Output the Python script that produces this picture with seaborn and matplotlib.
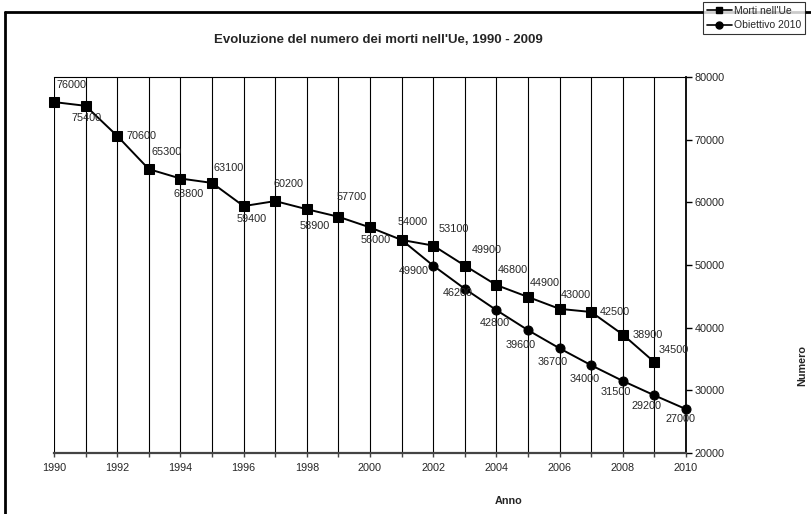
import matplotlib
matplotlib.use("Agg")
import matplotlib.pyplot as plt
from matplotlib.lines import Line2D
import numpy as np
import pandas as pd
import seaborn as sns

# Data
anni_morti = [1990, 1991, 1992, 1993, 1994, 1995, 1996, 1997, 1998, 1999,
              2000, 2001, 2002, 2003, 2004, 2005, 2006, 2007, 2008, 2009]
morti = [76000, 75400, 70600, 65300, 63800, 63100, 59400, 60200, 58900, 57700,
         56000, 54000, 53100, 49900, 46800, 44900, 43000, 42500, 38900, 34500]
anni_obiettivo = [2001, 2002, 2003, 2004, 2005, 2006, 2007, 2008, 2009, 2010]
obiettivo = [54000, 49900, 46200, 42800, 39600, 36700, 34000, 31500, 29200, 27000]
serie = ["Morti nell'Ue", "Obiettivo 2010"]
x_ticks = list(range(1990, 2011, 2))
y_ticks = [20000, 30000, 40000, 50000, 60000, 70000, 80000]

# Label offsets in points (dx, dy, ha)
off_morti = [(2, 12, 'left'), (1, -9, 'center'), (7, 0, 'left'), (2, 12, 'left'),
             (6, -11, 'center'), (1, 11, 'left'), (6, -9, 'center'), (-1, 12, 'left'),
             (6, -12, 'center'), (-1, 14, 'left'), (4, -9, 'center'), (-3, 13, 'left'),
             (4, 12, 'left'), (5, 11, 'left'), (1, 11, 'left'), (1, 10, 'left'),
             (1, 10, 'left'), (6, 0, 'left'), (7, 0, 'left'), (3, 9, 'left')]
off_obiettivo = [None, (-3, -4, 'right'), (-5, -3, 'center'), (-1, -9, 'center'),
                 (-5, -11, 'center'), (-5, -10, 'center'), (-5, -10, 'center'),
                 (-5, -8, 'center'), (-6, -8, 'center'), (-4, -7, 'center')]

df = pd.concat([
    pd.DataFrame({"Anno": anni_morti, "Numero": morti, "Serie": serie[0]}),
    pd.DataFrame({"Anno": anni_obiettivo, "Numero": obiettivo, "Serie": serie[1]}),
], ignore_index=True)

sns.set_style("white")
plt.rcParams['font.family'] = ['Liberation Sans', 'DejaVu Sans']

fig = plt.figure(figsize=(8.11, 5.14), dpi=100)
ax = fig.add_axes([54/811, 61/514, 632/811, 376/514])

# Objective line drawn first so the 2001 square sits on top
sns.lineplot(data=df, x="Anno", y="Numero", hue="Serie", style="Serie",
             hue_order=serie[::-1], style_order=serie[::-1],
             markers={serie[0]: 's', serie[1]: 'o'}, dashes=False,
             palette={serie[0]: 'black', serie[1]: 'black'},
             markersize=6.5, markeredgecolor='black', linewidth=1.4,
             ax=ax, legend=False, zorder=3, clip_on=False)

ax.set_xlim(1990, 2010)
ax.set_ylim(20000, 80000)

# Vertical gridlines at every year
ax.set_xticks(x_ticks)
ax.set_xticks(range(1990, 2011), minor=True)
ax.grid(False)
for yr in range(1990, 2011):
    ax.axvline(yr, color='black', lw=0.8, zorder=1)

ax.set_yticks(y_ticks)
ax.yaxis.tick_right()
ax.yaxis.set_label_position('right')
ax.tick_params(axis='y', which='major', direction='out', length=4, width=1,
               color='black', labelsize=7.8, pad=2, right=True, left=False)
ax.tick_params(axis='x', which='both', direction='out', length=3, width=1,
               color='#444444', labelsize=7.8, pad=4, bottom=True)

ax.spines['left'].set_visible(False)
ax.spines['top'].set_color('black')
ax.spines['top'].set_linewidth(0.8)
ax.spines['right'].set_color('black')
ax.spines['right'].set_linewidth(1.3)
ax.spines['bottom'].set_color('#444444')
ax.spines['bottom'].set_linewidth(1.6)

ax.set_xlabel("Anno", fontsize=7.8, fontweight='bold')
ax.xaxis.set_label_coords((509 - 54) / 632, -(501 - 453) / 376)
ax.set_ylabel("Numero", fontsize=7.8, fontweight='bold')
ax.yaxis.set_label_coords((802 - 54) / 632, (453 - 365) / 376)
ax.yaxis.label.set_va('center')
ax.xaxis.label.set_va('center')

# Value labels
for x, y, o in zip(anni_morti, morti, off_morti):
    ax.annotate(f"{y}", (x, y), xytext=(o[0], o[1]), textcoords='offset points',
                ha=o[2], va='center', fontsize=7.8, zorder=4)
for x, y, o in zip(anni_obiettivo, obiettivo, off_obiettivo):
    if o is None:
        continue
    ax.annotate(f"{y}", (x, y), xytext=(o[0], o[1]), textcoords='offset points',
                ha=o[2], va='center', fontsize=7.8, zorder=4)

fig.text(378/811, 1 - 40/514, "Evoluzione del numero dei morti nell'Ue, 1990 - 2009",
         ha='center', va='center', fontsize=9.5, fontweight='bold')

# Legend
handles = [Line2D([], [], color='black', marker='s', markersize=5, lw=1.2),
           Line2D([], [], color='black', marker='o', markersize=5, lw=1.2)]
leg = fig.legend(handles, serie, loc='upper left',
                 bbox_to_anchor=(703/811, 1 - 2/514), fontsize=7.5,
                 frameon=True, fancybox=False, edgecolor='black',
                 handlelength=2.4, handletextpad=0.2, borderpad=0.35,
                 labelspacing=0.45, borderaxespad=0)
leg.get_frame().set_linewidth(0.8)
leg.set_zorder(5)

# Chart frame
fig.add_artist(Line2D([5/811, 1.0], [1 - 12/514, 1 - 12/514], color='black', lw=2, zorder=1))
fig.add_artist(Line2D([5/811, 5/811], [0, 1 - 12/514], color='black', lw=2, zorder=1))

fig.savefig("out.png", dpi=100)
